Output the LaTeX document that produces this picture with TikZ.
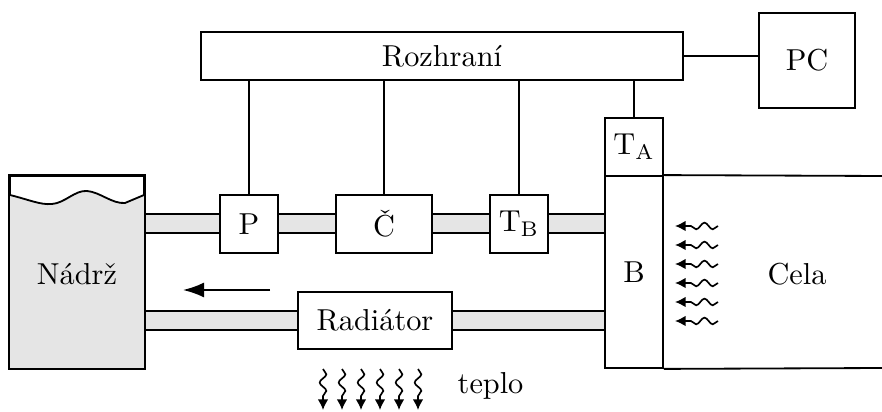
\documentclass[tikz,border=0pt]{standalone}
\usepackage{fontspec}
\usetikzlibrary{fit,arrows.meta,decorations.pathmorphing}
\begin{document}
\begin{tikzpicture}[x=0.33pt,y=-0.33pt,
  box/.style={draw,line width=0.6pt,fill=white,inner sep=0pt},
  conn/.style={line width=0.6pt},
  pipe/.style={fill=black!10},
  pipeedge/.style={line width=0.6pt},
  hflow/.style={line width=0.55pt,-{Latex[length=3.5pt,width=3.5pt]},decorate,
    decoration={snake,amplitude=1.1pt,segment length=5.5pt,post length=3.5pt,pre length=0pt}},
]
\useasboundingbox (0,0) rectangle (882,412);
% pipes
\foreach \a/\b in {144/220,278/336,432/490,548/605}{
  \fill[pipe] (\a,214) rectangle (\b,233);
  \draw[pipeedge] (\a,214) -- (\b,214) (\a,233) -- (\b,233);
}
\foreach \a/\b in {144/298,452/605}{
  \fill[pipe] (\a,311) rectangle (\b,330);
  \draw[pipeedge] (\a,311) -- (\b,311) (\a,330) -- (\b,330);
}
% tank
\node[box,fit={(10,176) (144,368)}] (tank) {};
\fill[black!10] (10,195) .. controls (30,200) and (40,205) .. (52,204)
  .. controls (65,203) and (75,190) .. (87,191)
  .. controls (100,192) and (112,204) .. (125,203) -- (144,195)
  -- (144,368) -- (10,368) -- cycle;
\draw[line width=0.6pt] (10,195) .. controls (30,200) and (40,205) .. (52,204)
  .. controls (65,203) and (75,190) .. (87,191)
  .. controls (100,192) and (112,204) .. (125,203) -- (144,195);
\draw[line width=0.6pt] (tank.south west) rectangle (tank.north east);
\node at (77,274) (tanktxt) {Nádrž};
% boxes
\node[box,fit={(201,32) (683,80)},label={center:Rozhraní}] (roz) {};
\node[box,fit={(759,13) (855,108)},label={center:PC}] (pc) {};
\node[box,fit={(605,118) (663,176)},label={center:T$_\mathrm{A}$}] (ta) {};
\node[box,fit={(605,176) (663,368)},label={center:B}] (b) {};
\node[box,fit={(220,195) (278,253)},label={center:P}] (p) {};
\node[box,fit={(336,195) (432,253)},label={center:Č}] (c) {};
\node[box,fit={(490,195) (548,253)},label={center:T$_\mathrm{B}$}] (tb) {};
\node[box,fit={(298,292) (452,349)},label={center:Radiátor}] (rad) {};
% cell
\coordinate (celltop) at (882,176);
\coordinate (cellbot) at (882,368);
\draw[line width=0.6pt] (b.north east) -- (celltop) (b.south east) -- (cellbot);
\node at (797,274) (cela) {Cela};
% connectors
\draw[conn] (roz.east) -- (roz.east -| pc.west);
\draw[conn] (p.north) -- (p.north |- roz.south);
\draw[conn] (c.north) -- (c.north |- roz.south);
\draw[conn] (tb.north) -- (tb.north |- roz.south);
\draw[conn] (ta.north) -- (ta.north |- roz.south);
% flow arrow
\coordinate (fa) at (270,290);
\coordinate (fb) at (183,290);
\draw[line width=0.6pt,-{Latex[length=7pt,width=5pt]}] (fa) -- (fb);
% heat arrows into cell
\foreach \y in {226,245,264,283,302,321}{
  \draw[hflow] (718,\y) -- (675,\y);
}
% heat from radiator
\foreach \x in {323,342,361,380,399,418}{
  \draw[hflow] (\x,369) -- (\x,410);
}
\node[anchor=west] at (447,386) (teplo) {teplo};
\end{tikzpicture}
\end{document}
